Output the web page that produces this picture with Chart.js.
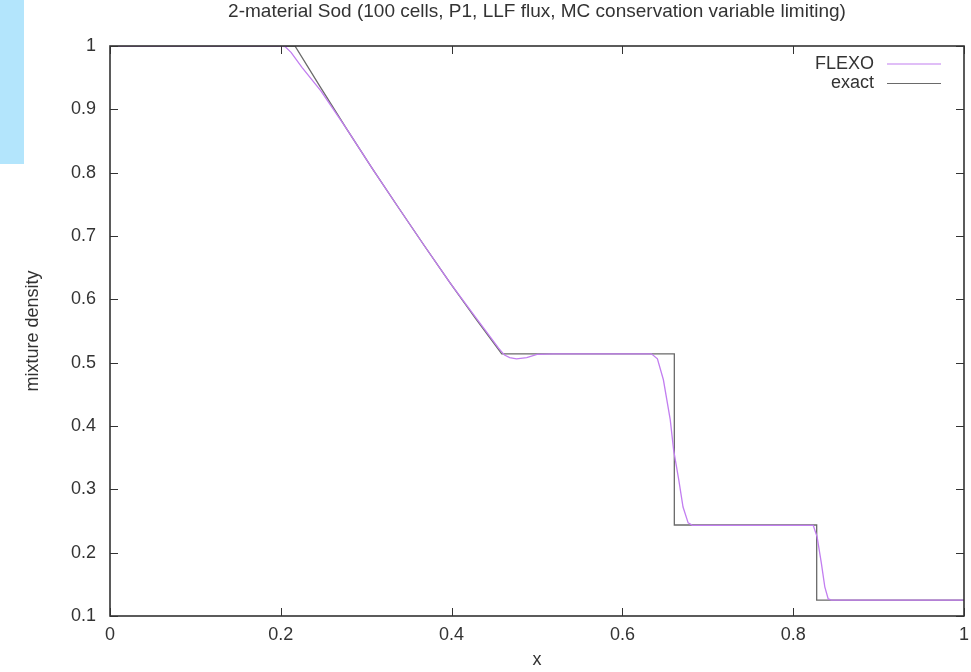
<!DOCTYPE html>
<html>
<head>
<meta charset="utf-8">
<script src="https://cdn.jsdelivr.net/npm/chart.js@4/dist/chart.umd.min.js"></script>
<style>
  html, body { margin: 0; padding: 0; background: #fff; }
  #wrap { position: relative; width: 971px; height: 672px; }
  #strip { position: absolute; left: 0; top: 0; width: 24px; height: 164px; background: #b3e5fc; }
</style>
</head>
<body>
<div id="wrap">
  <canvas id="grafico" width="971" height="672"></canvas>
  <div id="strip"></div>
</div>
<script>
const tituloGrafico = "2-material Sod (100 cells, P1, LLF flux, MC conservation variable limiting)";
const rotuloX = "x";
const rotuloY = "mixture density";

const xTicks = [0, 0.2, 0.4, 0.6, 0.8, 1];
const yTicks = [0.1, 0.2, 0.3, 0.4, 0.5, 0.6, 0.7, 0.8, 0.9, 1];

// FLEXO numerical solution
const flexoX = [0, 0.198, 0.205, 0.212, 0.225, 0.2469, 0.2771, 0.3074, 0.3377, 0.3679, 0.3982, 0.4284,
  0.445, 0.455, 0.462, 0.468, 0.476, 0.488, 0.5, 0.52,
  0.634, 0.641, 0.648, 0.656, 0.66, 0.666, 0.671, 0.677, 0.682, 0.8235, 0.828, 0.833, 0.837, 0.841, 0.845, 1];
const flexoY = [1, 1, 0.999, 0.99, 0.966, 0.929, 0.869, 0.806, 0.745, 0.685, 0.626, 0.571,
  0.541, 0.523, 0.512, 0.508, 0.506, 0.508, 0.513, 0.514,
  0.514, 0.506, 0.473, 0.41, 0.362, 0.315, 0.272, 0.247, 0.243, 0.243, 0.225, 0.183, 0.146, 0.127, 0.125, 0.125];

// exact solution
const exatoX = [0, 0.2166, 0.2469, 0.2771, 0.3074, 0.3377, 0.3679, 0.3982, 0.4284, 0.4587,
  0.6608, 0.6608, 0.8275, 0.8275, 1];
const exatoY = [1, 1, 0.934, 0.869, 0.806, 0.745, 0.685, 0.626, 0.569, 0.514,
  0.514, 0.2437, 0.2437, 0.125, 0.125];

const corFlexo = "#c27ef0";
const corExato = "#6a6a6a";
const corTexto = "#333333";
const fonte = "'Liberation Sans', Arial, sans-serif";

function montarPontos(xs, ys) {
  return xs.map((x, i) => ({ x: x, y: ys[i] }));
}

// moldura estilo gnuplot: ticks para dentro nos quatro lados, titulo e legenda interna
const molduraPlugin = {
  id: "moldura",
  afterDatasetsDraw(chart) {
    const ctx = chart.ctx;
    const area = chart.chartArea;
    const sx = chart.scales.x;
    const sy = chart.scales.y;
    const tam = 8;
    ctx.save();
    ctx.strokeStyle = corTexto;
    ctx.lineWidth = 1;
    xTicks.forEach((v) => {
      const px = Math.round(sx.getPixelForValue(v)) + 0.5;
      ctx.beginPath();
      ctx.moveTo(px, area.bottom);
      ctx.lineTo(px, area.bottom - tam);
      ctx.moveTo(px, area.top);
      ctx.lineTo(px, area.top + tam);
      ctx.stroke();
    });
    yTicks.forEach((v) => {
      const py = Math.round(sy.getPixelForValue(v)) + 0.5;
      ctx.beginPath();
      ctx.moveTo(area.left, py);
      ctx.lineTo(area.left + tam, py);
      ctx.moveTo(area.right, py);
      ctx.lineTo(area.right - tam, py);
      ctx.stroke();
    });
    ctx.lineWidth = 1.6;
    ctx.strokeRect(area.left, area.top, area.right - area.left, area.bottom - area.top);

    // titulo centrado na area do grafico
    ctx.fillStyle = corTexto;
    ctx.textAlign = "center";
    ctx.textBaseline = "middle";
    ctx.font = "19px " + fonte;
    ctx.fillText(tituloGrafico, (area.left + area.right) / 2, 12);

    // legenda
    ctx.font = "18px " + fonte;
    ctx.textAlign = "right";
    chart.data.datasets.forEach((ds, i) => {
      const y = area.top + 18 + i * 19.5;
      ctx.fillStyle = corTexto;
      ctx.fillText(ds.label, area.right - 90, y);
      ctx.strokeStyle = ds.borderColor;
      ctx.lineWidth = 1.2;
      ctx.beginPath();
      ctx.moveTo(area.right - 77, y);
      ctx.lineTo(area.right - 23, y);
      ctx.stroke();
    });
    ctx.restore();
  },
};

const ctx = document.getElementById("grafico").getContext("2d");

new Chart(ctx, {
  type: "scatter",
  data: {
    datasets: [
      {
        label: "FLEXO",
        data: montarPontos(flexoX, flexoY),
        showLine: true,
        borderColor: corFlexo,
        borderWidth: 1.3,
        pointRadius: 0,
        tension: 0,
      },
      {
        label: "exact",
        data: montarPontos(exatoX, exatoY),
        showLine: true,
        borderColor: corExato,
        borderWidth: 1.3,
        pointRadius: 0,
        tension: 0,
      },
    ],
  },
  options: {
    responsive: false,
    animation: false,
    events: [],
    layout: { padding: { top: 46, right: 7, bottom: 0, left: 0 } },
    plugins: {
      legend: { display: false },
      tooltip: { enabled: false },
      title: { display: false },
    },
    scales: {
      x: {
        type: "linear",
        min: 0,
        max: 1,
        afterFit(s) {
          s.height = 56;
          s.paddingLeft = 0;
          s.paddingRight = 0;
        },
        afterBuildTicks(s) { s.ticks = xTicks.map((v) => ({ value: v })); },
        grid: { display: false, drawTicks: false },
        border: { display: false },
        ticks: {
          color: corTexto,
          font: { family: fonte, size: 18 },
          padding: 8,
          maxRotation: 0,
          callback: (v) => String(v),
        },
        title: {
          display: true,
          text: rotuloX,
          color: corTexto,
          font: { family: fonte, size: 18 },
          padding: { top: 0, bottom: 1 },
        },
      },
      y: {
        type: "linear",
        min: 0.1,
        max: 1,
        afterFit(s) {
          s.width = 110;
          s.paddingTop = 0;
          s.paddingBottom = 0;
        },
        afterBuildTicks(s) { s.ticks = yTicks.map((v) => ({ value: v })); },
        grid: { display: false, drawTicks: false },
        border: { display: false },
        ticks: {
          color: corTexto,
          font: { family: fonte, size: 18 },
          padding: 14,
          callback: (v) => String(Math.round(v * 10) / 10),
        },
        title: {
          display: true,
          text: rotuloY,
          color: corTexto,
          font: { family: fonte, size: 18 },
          padding: { top: 22, bottom: 0 },
        },
      },
    },
  },
  plugins: [molduraPlugin],
});
</script>
</body>
</html>
